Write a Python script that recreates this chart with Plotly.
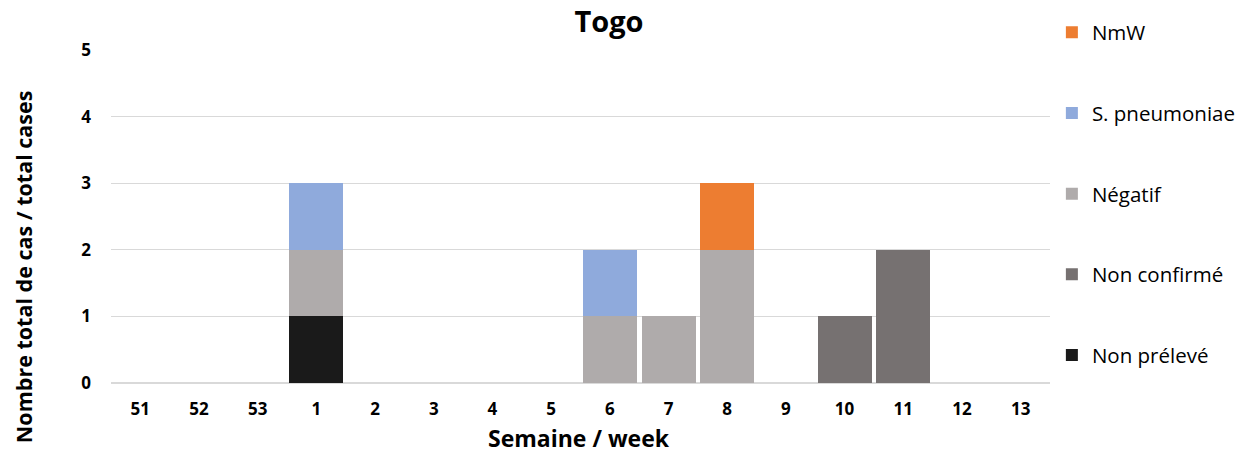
import plotly.graph_objects as go

weeks = ["51", "52", "53", "1", "2", "3", "4", "5", "6", "7", "8", "9", "10", "11", "12", "13"]
non_preleve = [0, 0, 0, 1, 0, 0, 0, 0, 0, 0, 0, 0, 0, 0, 0, 0]
non_confirme = [0, 0, 0, 0, 0, 0, 0, 0, 0, 0, 0, 0, 1, 2, 0, 0]
negatif = [0, 0, 0, 1, 0, 0, 0, 0, 1, 1, 2, 0, 0, 0, 0, 0]
s_pneumoniae = [0, 0, 0, 1, 0, 0, 0, 0, 1, 0, 0, 0, 0, 0, 0, 0]
nmw = [0, 0, 0, 0, 0, 0, 0, 0, 0, 0, 1, 0, 0, 0, 0, 0]

series = [
    ("Non prélevé", non_preleve, "#1a1a1a"),
    ("Non confirmé", non_confirme, "#767171"),
    ("Négatif", negatif, "#afabab"),
    ("S. pneumoniae", s_pneumoniae, "#8faadc"),
    ("NmW", nmw, "#ed7d31"),
]

FONT = "Open Sans"
fig = go.Figure()
for i, (name, vals, col) in enumerate(series):
    fig.add_trace(go.Bar(x=weeks, y=vals, name=name, legendgroup=name,
                         legendrank=len(series) - i,
                         marker=dict(color=col, line=dict(width=0))))

fig.update_layout(
    barmode="stack",
    bargap=0.08,
    width=1246, height=454,
    margin=dict(l=111, r=196, t=50, b=71, autoexpand=False),
    plot_bgcolor="white", paper_bgcolor="white",
    font=dict(family=FONT, color="#000000"),
    title=dict(text="<b>Togo</b>", x=0.4888, xref="container", xanchor="center",
               y=0.9515, yref="container", yanchor="middle",
               font=dict(size=29, family=FONT, color="#000")),
    legend=dict(x=1.002, xanchor="left", y=1.1125, yanchor="top",
                traceorder="grouped", tracegroupgap=51, maxheight=1,
                font=dict(size=20.5, family=FONT, color="#000"),
                itemwidth=30),
    xaxis=dict(type="category", tickfont=dict(size=17, family=FONT, color="#000", weight="bold"),
               showline=False, ticks="", showgrid=False, ticklabelstandoff=14, automargin=False),
    yaxis=dict(range=[0, 5], dtick=1, tickfont=dict(size=17, family=FONT, color="#000", weight="bold"),
               gridcolor="#d9d9d9", gridwidth=1, zeroline=True, zerolinecolor="#d9d9d9",
               ticks="", ticklabelstandoff=19, automargin=False),
    annotations=[
        dict(text="<b>Nombre total de cas / total cases</b>", textangle=-90,
             xref="paper", yref="paper", x=-0.0937, y=0.348,
             xanchor="center", yanchor="middle", showarrow=False,
             font=dict(size=21.5, family=FONT, color="#000")),
        dict(text="<b>Semaine / week</b>",
             xref="paper", yref="paper", x=0.4984, y=-0.165,
             xanchor="center", yanchor="middle", showarrow=False,
             font=dict(size=23, family=FONT, color="#000")),
    ],
)

fig.write_html("out.html", config={"displayModeBar": False},
               post_script="document.body.style.margin='0px';")
